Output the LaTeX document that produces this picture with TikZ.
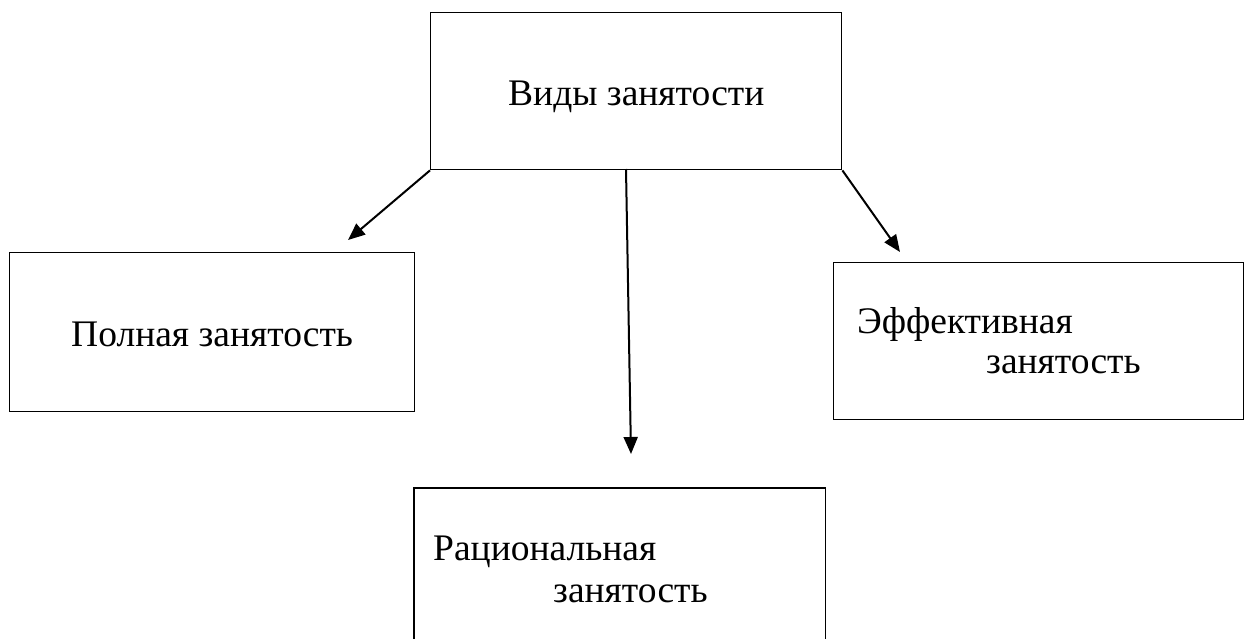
\documentclass[tikz,border=0pt]{standalone}
\usepackage{fontspec}
\setmainfont{Liberation Serif}
\usetikzlibrary{arrows.meta}
\begin{document}
\begin{tikzpicture}[x=1pt,y=-1pt,
  box/.style={draw=black,line width=1.4pt,inner sep=0pt,anchor=north west},
  openbox/.style={inner sep=0pt,anchor=north west},
  label/.style={inner sep=0pt,anchor=base west,font=\fontsize{37.5}{37.5}\selectfont},
  conn/.style={line width=2pt,-{Triangle[length=17pt,width=14pt]}}]
\useasboundingbox (0,0) rectangle (1251,638);
\node[box,minimum width=411pt,minimum height=157pt] (top) at (430,12) {};
\node[box,minimum width=405pt,minimum height=159pt] (full) at (9,252) {};
\node[box,minimum width=410pt,minimum height=157pt] (eff) at (833,262) {};
\node[openbox,minimum width=411pt,minimum height=155pt] (rat) at (414,488) {};
\draw[line width=1.4pt] (rat.south west) -- (rat.north west) -- (rat.north east) -- (rat.south east);
\node[label] (topt) at (508,105) {Виды занятости};
\node[label] (fullt) at (71,346) {Полная занятость};
\node[label] (efft1) at (857,333) {Эффективная};
\node[label] (efft2) at (986,373) {занятость};
\node[label] (ratt1) at (433,560) {Рациональная};
\node[label] (ratt2) at (553,602) {занятость};
\coordinate (midstart) at (626,169);
\coordinate (tipl) at (348,240);
\coordinate (tipm) at (631,454);
\coordinate (tipr) at (900,252);
\draw[conn] (top.south west) -- (tipl);
\draw[conn] (midstart) -- (tipm);
\draw[conn] (top.south east) -- (tipr);
\end{tikzpicture}
\end{document}
